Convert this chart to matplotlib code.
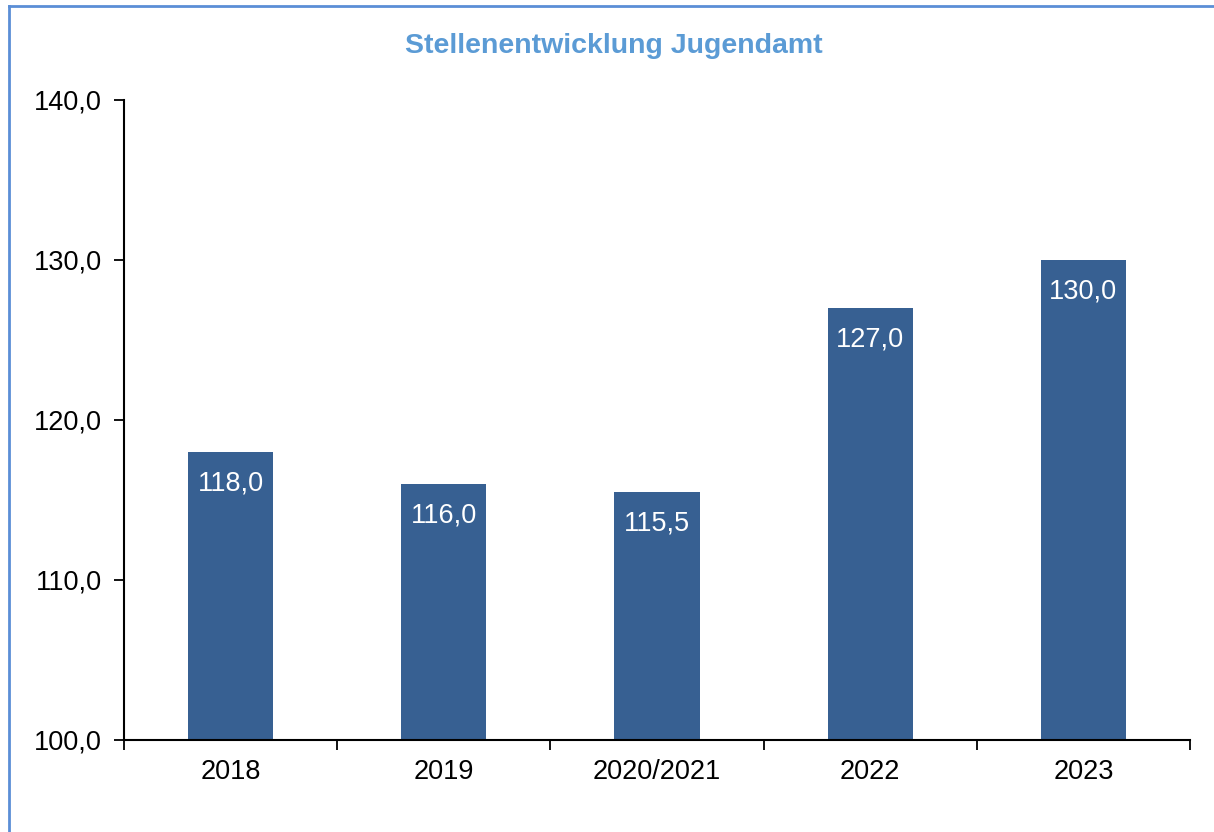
import matplotlib.pyplot as plt
from matplotlib.lines import Line2D
from matplotlib.ticker import FixedLocator, NullFormatter

# Werte aus dem Diagramm
categories = ["2018", "2019", "2020/2021", "2022", "2023"]
values = [118.0, 116.0, 115.5, 127.0, 130.0]
y_ticks = [100, 110, 120, 130, 140]

BAR_COLOR = "#376092"
TITLE_COLOR = "#5B9BD5"
BORDER_COLOR = "#5B8ED6"

plt.rcParams['font.family'] = ['Liberation Sans', 'DejaVu Sans']

fig = plt.figure(figsize=(12.14, 8.32), dpi=100)
ax = fig.add_axes([124 / 1214, 1 - 740 / 832, (1190 - 124) / 1214, (740 - 100) / 832])

x = list(range(len(categories)))
ax.bar(x, values, width=0.4, color=BAR_COLOR, zorder=2)

for xi, v in zip(x, values):
    label = f"{v:.1f}".replace(".", ",")
    ax.text(xi, v - 1.15, label, ha="center", va="top", color="white", fontsize=19.5)

ax.set_xlim(-0.5, len(categories) - 0.5)
ax.set_ylim(100, 140)

# Striche an den Kategoriegrenzen, Beschriftungen in der Mitte
ax.xaxis.set_major_locator(FixedLocator([i - 0.5 for i in range(len(categories) + 1)]))
ax.xaxis.set_major_formatter(NullFormatter())
ax.xaxis.set_minor_locator(FixedLocator(x))
ax.set_xticklabels(categories, minor=True)
ax.tick_params(axis="x", which="major", direction="out", length=7, width=1.3)
ax.tick_params(axis="x", which="minor", length=0, labelsize=19.5, pad=14)

ax.set_yticks(y_ticks)
ax.set_yticklabels([f"{t:.1f}".replace(".", ",") for t in y_ticks])
ax.tick_params(axis="y", direction="out", length=7, width=1.3, labelsize=19.5, pad=9)

for side in ["top", "right"]:
    ax.spines[side].set_visible(False)
for side in ["left", "bottom"]:
    ax.spines[side].set_linewidth(1.5)

fig.text(614 / 1214, 1 - 46 / 832, "Stellenentwicklung Jugendamt", ha="center", va="center",
         fontsize=20.5, fontweight="bold", color=TITLE_COLOR)

# Rahmen oben und links
fig.add_artist(Line2D([8.5 / 1214, 8.5 / 1214], [0, 1 - 6 / 832], transform=fig.transFigure,
                      color=BORDER_COLOR, linewidth=2))
fig.add_artist(Line2D([8.5 / 1214, 1], [1 - 6 / 832, 1 - 6 / 832], transform=fig.transFigure,
                      color=BORDER_COLOR, linewidth=2))

fig.savefig("out.png", dpi=100)
